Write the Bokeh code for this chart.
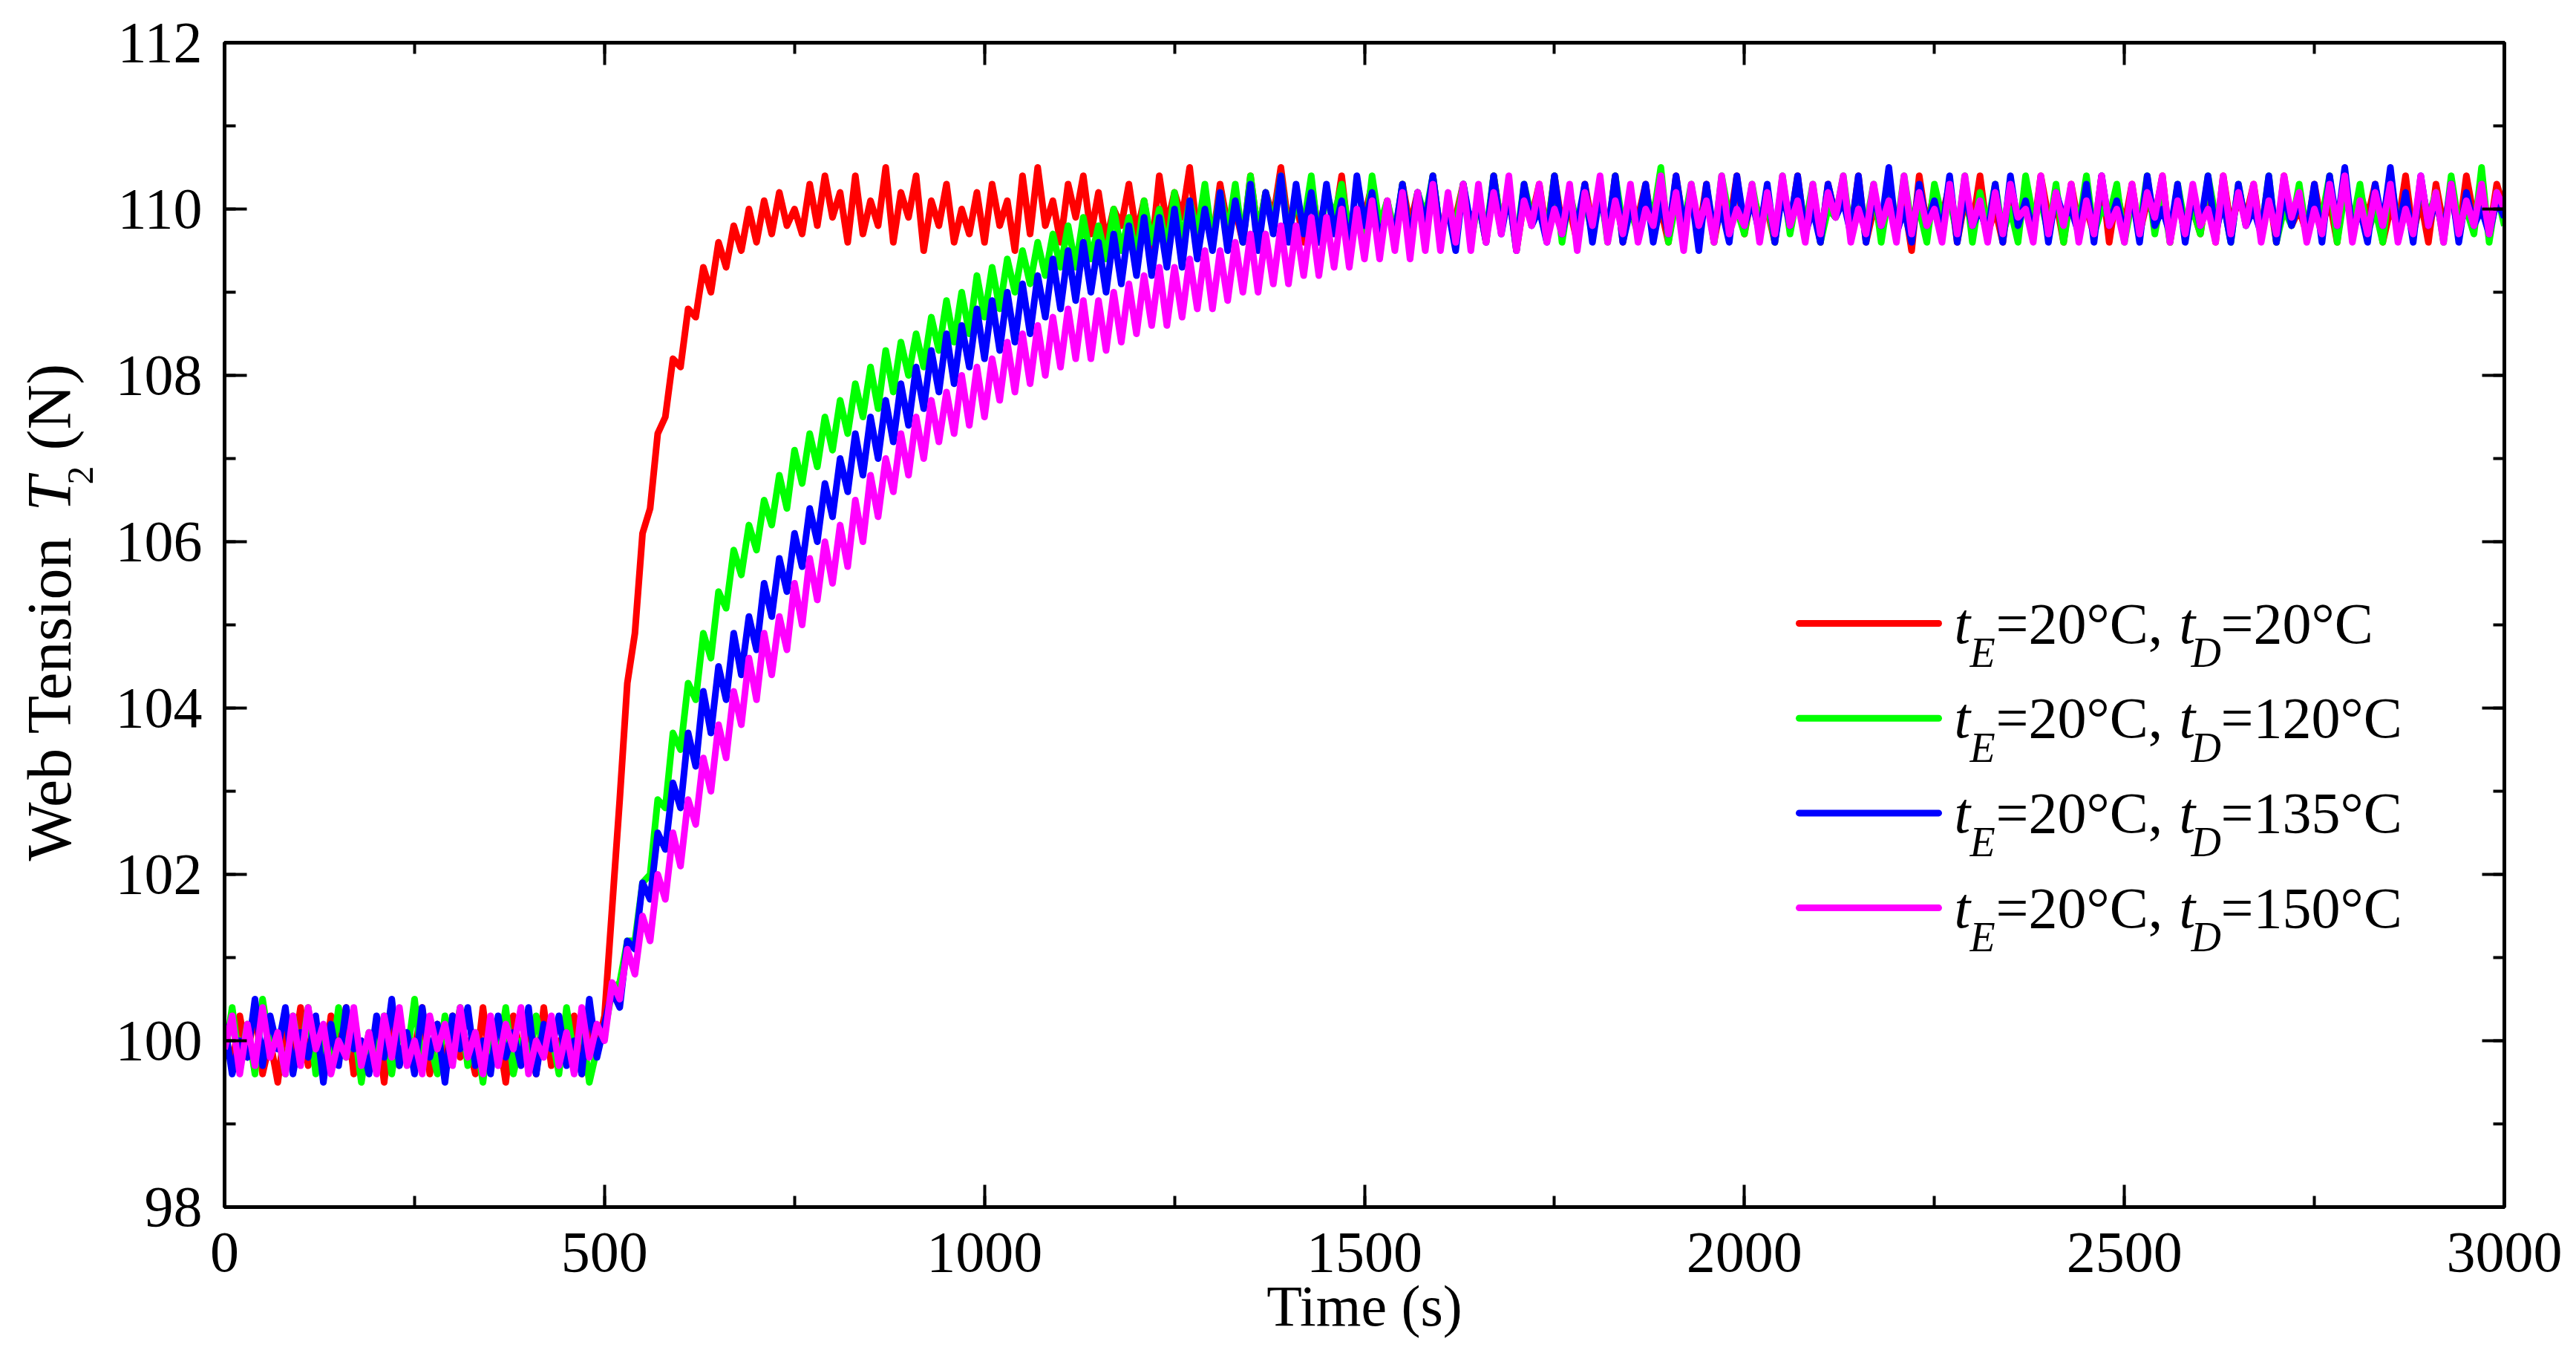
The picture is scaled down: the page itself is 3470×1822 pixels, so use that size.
import math
from bokeh.plotting import figure
from bokeh.layouts import row
from bokeh.models import (Range1d, LinearAxis, SingleIntervalTicker, Label, Arrow,
                          CustomJSTickFormatter)
from bokeh.embed import file_html
from bokeh.resources import INLINE

# ---------------- data (one value every 10 s) ----------------
time_step_s = 10

red_20_20 = [
    100.1, 99.7, 100.3, 99.8, 100.4, 99.6, 100.0, 99.5, 100.2, 99.8,
    100.4, 99.7, 100.1, 99.6, 100.3, 99.9, 100.4, 99.6, 100.0, 99.8,
    100.2, 99.5, 100.3, 99.7, 100.1, 99.9, 100.4, 99.6, 100.2, 99.7,
    100.3, 99.8, 100.0, 99.6, 100.4, 99.7, 100.1, 99.5, 100.3, 99.8,
    100.2, 99.6, 100.4, 99.7, 100.0, 99.8, 100.3, 99.6, 100.2, 99.9,
    100.3,
    101.6, 102.9, 104.3, 104.9, 106.1, 106.4, 107.3, 107.5, 108.2, 108.1,
    108.8, 108.7, 109.3, 109.0, 109.6, 109.3, 109.8, 109.5, 110.0, 109.6,
    110.1, 109.7, 110.2, 109.8,
    110.0, 109.7, 110.3, 109.8, 110.4, 109.9, 110.2, 109.6, 110.4, 109.7,
    110.1, 109.8, 110.5, 109.6, 110.2, 109.9, 110.4, 109.5, 110.1, 109.8,
    110.3, 109.6, 110.0, 109.7, 110.2, 109.6, 110.3, 109.8, 110.1, 109.5,
    110.4, 109.7, 110.5, 109.8, 110.1, 109.6, 110.3, 109.9, 110.4, 109.7,
    110.2, 109.6, 110.0, 109.8, 110.3, 109.7, 110.1, 109.5, 110.4, 109.8,
    110.2, 109.9, 110.5, 109.7, 110.1, 109.6, 110.3, 109.8, 110.0, 109.6,
    110.4, 109.7, 110.2, 109.9, 110.5, 109.8, 110.1, 109.6, 110.3, 109.7,
    110.2, 109.8, 110.4, 109.6, 110.0, 109.9, 110.3, 109.7, 110.1, 109.6,
    110.3, 109.8, 110.2, 109.6, 110.4, 109.7, 110.0, 109.9, 110.3, 109.7,
    110.1, 109.6, 110.4, 109.8, 110.2, 109.5, 110.1, 109.9, 110.3, 109.7,
    110.4, 109.8, 110.0, 109.6, 110.3, 109.8, 110.2, 109.7, 110.4, 109.6,
    110.1, 109.9, 110.3, 109.7, 110.0, 109.6, 110.4, 109.8, 110.2, 109.7,
    110.3, 109.6, 110.1, 109.8, 110.4, 109.7, 110.2, 109.9, 110.0, 109.6,
    110.3, 109.8, 110.4, 109.7, 110.1, 109.6, 110.3, 109.9, 110.2, 109.7,
    110.4, 109.6, 110.0, 109.8, 110.3, 109.7, 110.1, 109.5, 110.4, 109.8,
    110.2, 109.9, 110.3, 109.6, 110.1, 109.8, 110.4, 109.7, 110.0, 109.6,
    110.3, 109.8, 110.2, 109.7, 110.4, 109.9, 110.1, 109.6, 110.3, 109.8,
    110.0, 109.7, 110.4, 109.6, 110.2, 109.8, 110.3, 109.7, 110.1, 109.9,
    110.4, 109.6, 110.2, 109.8, 110.0, 109.7, 110.3, 109.6, 110.4, 109.8,
    110.1, 109.9, 110.3, 109.7, 110.2, 109.6, 110.4, 109.8, 110.0, 109.7,
    110.3, 109.8, 110.1, 109.6, 110.4, 109.7, 110.2, 109.9, 110.3, 109.6,
    110.0, 109.8, 110.4, 109.7, 110.1, 109.6, 110.3, 109.8, 110.2, 109.7,
    110.4, 109.9, 110.1, 109.7, 110.3, 110.0,
]

green_20_120 = [
    99.8, 100.4, 99.7, 100.2, 99.6, 100.5, 99.9, 100.1, 99.6, 100.3,
    99.8, 100.4, 99.6, 100.0, 99.7, 100.4, 99.8, 100.2, 99.5, 100.1,
    99.9, 100.3, 99.6, 100.2, 99.8, 100.5, 99.7, 100.0, 99.6, 100.3,
    99.9, 100.4, 99.7, 100.1, 99.5, 100.2, 99.8, 100.4, 99.6, 100.0,
    99.7, 100.3, 99.9, 100.1, 99.6, 100.4, 99.8, 100.2, 99.5, 99.9,
    100.1,
    100.6, 100.7, 101.2, 101.2, 101.9, 102.0, 102.9, 102.8, 103.7, 103.5,
    104.3, 104.1, 104.9, 104.6, 105.4, 105.2, 105.9, 105.6, 106.2, 105.9,
    106.5, 106.2, 106.8, 106.4, 107.1, 106.7, 107.3, 106.9, 107.5, 107.1,
    107.7, 107.3, 107.9, 107.5, 108.1, 107.6, 108.3, 107.8, 108.4, 108.0,
    108.5, 108.1, 108.7, 108.3, 108.9, 108.4, 109.0, 108.5, 109.2, 108.7,
    109.3, 108.8, 109.4, 109.0, 109.5, 109.1, 109.6, 109.2, 109.7, 109.3,
    109.8, 109.3, 109.9, 109.4, 109.8, 109.4, 110.0, 109.5, 109.9, 109.4,
    110.1, 109.6, 110.0, 109.5, 110.2, 109.6, 110.1, 109.7, 110.3, 109.6,
    110.2, 109.7, 110.3, 109.6, 110.4, 109.7, 110.2, 109.8, 110.4, 109.7,
    110.1, 109.8, 110.4, 109.6, 110.2, 109.9, 110.3, 109.7, 110.0, 109.6,
    110.4, 109.8, 110.1, 109.7, 110.3, 109.6, 110.2, 109.9, 110.4, 109.7,
    110.0, 109.8, 110.3, 109.6, 110.1, 109.7, 110.4, 109.8, 110.2, 109.6,
    110.3, 109.9, 110.0, 109.7, 110.4, 109.6, 110.2, 109.8, 110.1, 109.7,
    110.3, 109.6, 110.4, 109.8, 110.0, 109.7, 110.2, 109.9, 110.5, 109.6,
    110.1, 109.8, 110.3, 109.7, 110.2, 109.6, 110.4, 109.9, 110.0, 109.7,
    110.3, 109.8, 110.1, 109.6, 110.4, 109.7, 110.2, 109.8, 110.3, 109.6,
    110.0, 109.9, 110.4, 109.7, 110.1, 109.8, 110.3, 109.6, 110.2, 109.7,
    110.4, 109.8, 110.0, 109.6, 110.3, 109.9, 110.1, 109.7, 110.4, 109.6,
    110.2, 109.8, 110.3, 109.7, 110.0, 109.6, 110.4, 109.9, 110.1, 109.7,
    110.3, 109.6, 110.2, 109.8, 110.4, 109.7, 110.0, 109.9, 110.3, 109.6,
    110.1, 109.8, 110.4, 109.7, 110.2, 109.6, 110.3, 109.8, 110.0, 109.7,
    110.4, 109.9, 110.1, 109.6, 110.3, 109.8, 110.2, 109.7, 110.4, 109.6,
    110.0, 109.8, 110.3, 109.7, 110.1, 109.9, 110.4, 109.6, 110.2, 109.8,
    110.3, 109.7, 110.0, 109.6, 110.4, 109.8, 110.1, 109.7, 110.3, 109.9,
    110.2, 109.6, 110.4, 109.8, 110.0, 109.7, 110.5, 109.6, 110.2, 109.8,
]

blue_20_135 = [
    100.2, 99.6, 100.0, 99.8, 100.5, 99.7, 100.3, 99.9, 100.4, 99.6,
    100.1, 99.8, 100.3, 99.5, 100.2, 99.7, 100.4, 99.9, 100.0, 99.6,
    100.3, 99.8, 100.5, 99.7, 100.1, 99.6, 100.4, 99.8, 100.2, 99.5,
    100.3, 99.9, 100.4, 99.7, 100.0, 99.6, 100.3, 99.8, 100.1, 99.7,
    100.4, 99.6, 100.2, 99.9, 100.3, 99.7, 100.0, 99.6, 100.5, 99.8,
    100.2,
    100.6, 100.4, 101.2, 101.1, 101.9, 101.7, 102.5, 102.3, 103.1, 102.8,
    103.7, 103.3, 104.2, 103.7, 104.5, 104.1, 104.9, 104.4, 105.1, 104.7,
    105.5, 105.1, 105.8, 105.4, 106.1, 105.7, 106.4, 106.0, 106.7, 106.3,
    107.0, 106.6, 107.3, 106.8, 107.5, 107.0, 107.7, 107.2, 107.9, 107.4,
    108.1, 107.6, 108.3, 107.8, 108.5, 107.9, 108.6, 108.1, 108.8, 108.2,
    108.9, 108.3, 109.0, 108.4, 109.1, 108.5, 109.2, 108.7, 109.4, 108.8,
    109.5, 108.9, 109.6, 109.0, 109.6, 109.0, 109.7, 109.1, 109.8, 109.2,
    109.9, 109.2, 109.9, 109.3, 110.0, 109.3, 110.1, 109.4, 110.0, 109.5,
    110.2, 109.5, 110.1, 109.6, 110.3, 109.5, 110.2, 109.7, 110.4, 109.6,
    110.3, 109.7, 110.2, 109.6,
    110.3, 109.7, 110.1, 109.5, 110.4, 109.8, 110.2, 109.6, 110.0, 109.7,
    110.3, 109.6, 110.2, 109.8, 110.4, 109.7, 110.0, 109.5, 110.3, 109.8,
    110.1, 109.6, 110.4, 109.7, 110.2, 109.5, 110.3, 109.8, 110.0, 109.6,
    110.4, 109.7, 110.1, 109.8, 110.3, 109.6, 110.2, 109.7, 110.4, 109.6,
    110.0, 109.8, 110.3, 109.6, 110.1, 109.7, 110.4, 109.8, 110.2, 109.5,
    110.3, 109.7, 110.0, 109.6, 110.4, 109.8, 110.1, 109.7, 110.3, 109.6,
    110.2, 109.8, 110.4, 109.7, 110.0, 109.6, 110.3, 109.9, 110.1, 109.7,
    110.4, 109.6, 110.2, 109.8, 110.5, 109.7, 110.0, 109.6, 110.3, 109.8,
    110.1, 109.7, 110.4, 109.6, 110.2, 109.8, 110.0, 109.7, 110.3, 109.6,
    110.4, 109.8, 110.1, 109.7, 110.3, 109.6, 110.2, 109.9, 110.0, 109.7,
    110.3, 109.6, 110.4, 109.8, 110.1, 109.7, 110.2, 109.6, 110.4, 109.8,
    110.0, 109.7, 110.3, 109.6, 110.2, 109.8, 110.4, 109.7, 110.1, 109.6,
    110.3, 109.8, 110.0, 109.7, 110.4, 109.6, 110.2, 109.8, 110.1, 109.7,
    110.3, 109.6, 110.4, 109.8, 110.5, 109.7, 110.0, 109.6, 110.3, 109.8,
    110.5, 109.7, 110.2, 109.6, 110.4, 109.8, 110.1, 109.7, 110.3, 109.6,
    110.2, 109.8, 110.0, 109.7, 110.1, 109.9,
]

magenta_20_150 = [
    99.9, 100.3, 99.6, 100.2, 99.7, 100.4, 99.8, 100.1, 99.6, 100.3,
    99.7, 100.4, 99.9, 100.2, 99.6, 100.0, 99.8, 100.4, 99.7, 100.1,
    99.6, 100.3, 99.8, 100.4, 99.7, 100.0, 99.6, 100.3, 99.9, 100.2,
    99.7, 100.4, 99.8, 100.1, 99.6, 100.3, 99.7, 100.2, 99.9, 100.4,
    99.6, 100.0, 99.8, 100.3, 99.7, 100.1, 99.6, 100.4, 99.8, 100.2,
    100.0,
    100.7, 100.5, 101.1, 100.8, 101.5, 101.2, 102.0, 101.7, 102.5, 102.1,
    102.9, 102.6, 103.4, 103.0, 103.8, 103.4, 104.2, 103.8, 104.6, 104.1,
    104.9, 104.4, 105.1, 104.7, 105.5, 105.0, 105.8, 105.3, 106.0, 105.5,
    106.2, 105.7, 106.5, 106.0, 106.8, 106.3, 107.0, 106.6, 107.3, 106.8,
    107.5, 107.0, 107.7, 107.2, 107.8, 107.3, 108.0, 107.4, 108.1, 107.5,
    108.2, 107.7, 108.4, 107.8, 108.5, 107.9, 108.6, 108.0, 108.7, 108.1,
    108.8, 108.2, 108.9, 108.2, 108.9, 108.3, 109.0, 108.4, 109.1, 108.5,
    109.2, 108.6, 109.3, 108.6, 109.3, 108.7, 109.4, 108.8, 109.5, 108.8,
    109.5, 108.9, 109.6, 109.0, 109.7, 109.0, 109.7, 109.1, 109.8, 109.1,
    109.8, 109.2, 109.9, 109.2, 109.9, 109.3, 110.0, 109.3, 110.0, 109.4,
    110.1, 109.4, 110.1, 109.5, 110.2, 109.4, 110.2, 109.5, 110.3, 109.5,
    110.2, 109.6, 110.3, 109.5, 110.3,
    109.6, 110.2, 109.7, 110.4, 109.5, 110.1, 109.8, 110.3, 109.6, 110.0,
    109.7, 110.3, 109.5, 110.2, 109.8, 110.4, 109.6, 110.1, 109.7, 110.3,
    109.6, 110.0, 109.8, 110.4, 109.7, 110.2, 109.5, 110.3, 109.8, 110.1,
    109.6, 110.4, 109.7, 110.0, 109.8, 110.3, 109.6, 110.2, 109.7, 110.4,
    109.8, 110.1, 109.6, 110.3, 109.7, 110.2, 109.9, 110.4, 109.6, 110.0,
    109.7, 110.3, 109.8, 110.1, 109.6, 110.4, 109.7, 110.2, 109.8, 110.0,
    109.6, 110.3, 109.7, 110.4, 109.8, 110.1, 109.6, 110.2, 109.7, 110.3,
    109.9, 110.0, 109.6, 110.4, 109.7, 110.2, 109.8, 110.3, 109.6, 110.1,
    109.7, 110.4, 109.8, 110.0, 109.6, 110.3, 109.7, 110.2, 109.9, 110.4,
    109.6, 110.1, 109.7, 110.3, 109.8, 110.0, 109.6, 110.4, 109.7, 110.2,
    109.8, 110.3, 109.6, 110.1, 109.7, 110.4, 109.9, 110.2, 109.6, 110.0,
    109.7, 110.3, 109.8, 110.4, 109.6, 110.1, 109.7, 110.2, 109.8, 110.3,
    109.6, 110.0, 109.7, 110.4, 109.8, 110.2, 109.6, 110.3, 109.7, 110.1,
    109.8, 110.3, 109.7, 110.2, 110.0,
]

series_colors = ["#FF0000", "#00FF00", "#0000FF", "#FF00FF"]
legend_td_values = ["20", "120", "135", "150"]
legend_te_value = "20"

# ---------------- layout constants (page pixels; canvas starts at page 0) ----------------
FONT = "Liberation Serif"
FRAME_LEFT, FRAME_TOP = 302, 57
FRAME_W, FRAME_H = 3071, 1568
FRAME_BOTTOM = FRAME_TOP + FRAME_H
BOTTOM_BORDER = 187
RIGHT_BORDER = 90
LABEL_W = 140                      # width of the strip that holds the y-axis title
BASELINE_FIX = 0.35                # em-fraction correction for Bokeh's alphabetic baseline


def fx(px):   # page x -> main-frame screen x
    return px - FRAME_LEFT


def fy(py):   # page y -> main-frame screen y (upwards from frame bottom)
    return FRAME_BOTTOM - py


# ---------------- main figure ----------------
p = figure(
    frame_width=FRAME_W, frame_height=FRAME_H,
    x_range=Range1d(0, 3000), y_range=Range1d(98, 112),
    output_backend="svg", toolbar_location=None,
    min_border_left=FRAME_LEFT - LABEL_W, min_border_top=FRAME_TOP,
    min_border_right=RIGHT_BORDER, min_border_bottom=BOTTOM_BORDER,
    background_fill_color="white", border_fill_color="white",
)
p.xgrid.visible = False
p.ygrid.visible = False
p.outline_line_color = "black"
p.outline_line_width = 5

x_ticker = SingleIntervalTicker(interval=500, num_minor_ticks=2)
y_ticker = SingleIntervalTicker(interval=2, num_minor_ticks=2)


def style_axis(ax, show_labels):
    ax.axis_line_color = "black"
    ax.axis_line_width = 5
    ax.major_tick_line_color = "black"
    ax.major_tick_line_width = 4
    ax.minor_tick_line_color = "black"
    ax.minor_tick_line_width = 4
    ax.major_tick_in = 30
    ax.major_tick_out = 0
    ax.minor_tick_in = 15
    ax.minor_tick_out = 0
    ax.major_label_text_font = FONT
    ax.major_label_text_font_size = "78px"
    ax.major_label_text_color = "black"
    if not show_labels:
        ax.formatter = CustomJSTickFormatter(code="return ''")
        ax.major_label_standoff = 0


p.xaxis.ticker = x_ticker
p.yaxis.ticker = y_ticker
style_axis(p.xaxis[0], True)
style_axis(p.yaxis[0], True)
p.xaxis.major_label_standoff = 35
p.yaxis.major_label_standoff = 30
p.xaxis.axis_label = "Time (s)"
p.xaxis.axis_label_text_font = FONT
p.xaxis.axis_label_text_font_size = "78px"
p.xaxis.axis_label_text_font_style = "normal"
p.xaxis.axis_label_text_color = "black"
p.xaxis.axis_label_standoff = 0

top_axis = LinearAxis(ticker=x_ticker)
style_axis(top_axis, False)
p.add_layout(top_axis, "above")
right_axis = LinearAxis(ticker=y_ticker)
style_axis(right_axis, False)
p.add_layout(right_axis, "right")

# ---------------- curves ----------------
for vals, col in zip([red_20_20, green_20_120, blue_20_135, magenta_20_150], series_colors):
    t = [i * time_step_s for i in range(len(vals))]
    p.line(t, vals, line_color=col, line_width=9, line_join="round")

# ---------------- legend (manual, rich text) ----------------
LEG_LINE_X0, LEG_LINE_X1 = 2423, 2611
LEG_ROW0_Y, LEG_ROW_DY = 839, 127.7
MAIN_PX, SUB_PX = 78, 56
for i, (col, td) in enumerate(zip(series_colors, legend_td_values)):
    ly = LEG_ROW0_Y + i * LEG_ROW_DY
    p.add_layout(Arrow(x_start=fx(LEG_LINE_X0), y_start=fy(ly), x_end=fx(LEG_LINE_X1), y_end=fy(ly),
                       start_units="screen", end_units="screen", end=None,
                       line_color=col, line_width=9, line_cap="round"))
    base = ly + 27 - BASELINE_FIX * MAIN_PX
    sub = ly + 27 + 32 - BASELINE_FIX * SUB_PX
    parts = [
        ("t", "italic", MAIN_PX, 2632, base),
        ("E", "italic", SUB_PX, 2653, sub),
        ("=" + legend_te_value + "°C,", "normal", MAIN_PX, 2688, base),
        ("t", "italic", MAIN_PX, 2935, base),
        ("D", "italic", SUB_PX, 2951, sub),
        ("=" + td + "°C", "normal", MAIN_PX, 2991, base),
    ]
    for txt, style, size, px, py in parts:
        p.add_layout(Label(x=fx(px), y=fy(py), x_units="screen", y_units="screen",
                           text=txt, text_font=FONT, text_font_style=style,
                           text_font_size=f"{size}px", text_color="black",
                           text_align="left", text_baseline="alphabetic"))

# ---------------- y-axis title strip: "Web Tension T_2 (N)" ----------------
# its frame spans the same page rows as the main frame; data units = page pixels
ytitle = figure(
    frame_width=LABEL_W, frame_height=FRAME_H,
    x_range=Range1d(0, LABEL_W), y_range=Range1d(FRAME_BOTTOM, FRAME_TOP),
    x_axis_type=None, y_axis_type=None, output_backend="svg", toolbar_location=None,
    min_border_left=0, min_border_right=0,
    min_border_top=FRAME_TOP, min_border_bottom=BOTTOM_BORDER,
    background_fill_color="white", border_fill_color="white", outline_line_color=None,
)
ytitle.xgrid.visible = False
ytitle.ygrid.visible = False
YT_PX, YSUB_PX = 84, 50
YT_BASE_X = 95
ytitle_parts = [
    ("Web Tension", "normal", YT_PX, YT_BASE_X, 1159),
    ("T", "italic", YT_PX, YT_BASE_X, 688),
    ("2", "normal", YSUB_PX, YT_BASE_X + 30, 652),
    ("(N)", "normal", YT_PX, YT_BASE_X, 606),
]
for txt, style, size, bx, py in ytitle_parts:
    ytitle.add_layout(Label(x=bx - BASELINE_FIX * size, y=py,
                            text=txt, angle=math.pi / 2, text_font=FONT, text_font_style=style,
                            text_font_size=f"{size}px", text_color="black",
                            text_align="left", text_baseline="alphabetic"))

layout = row(ytitle, p, spacing=0)
open("out.html", "w").write(file_html(layout, INLINE))
